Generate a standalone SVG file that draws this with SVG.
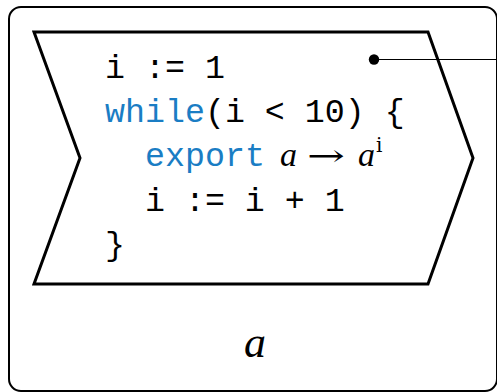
<svg xmlns="http://www.w3.org/2000/svg" width="497" height="392" viewBox="0 0 497 392">
  <style>
    .code { font-family: "Liberation Mono", "DejaVu Sans Mono", monospace; font-size: 33.3px; fill: #000; white-space: pre; }
    .kw { fill: #1a7dc4; }
    .math { font-family: "Liberation Serif", "DejaVu Serif", serif; font-style: italic; fill: #000; }
    .sym { font-family: "DejaVu Serif", "Liberation Serif", serif; fill: #000; }
  </style>
  <rect width="497" height="392" fill="#fff"/>
  <g id="outer">
    <rect x="9" y="7" width="488" height="384" rx="12" ry="12" fill="none" stroke="#000" stroke-width="2"/>
    <text class="math" x="255" y="357" font-size="44" text-anchor="middle">a</text>
  </g>
  <g id="block">
    <polygon points="34,32 428,32 473,158 428,284 34,284 80,158" fill="none" stroke="#000" stroke-width="3" stroke-linejoin="miter"/>
    <text class="code" x="105" y="78" xml:space="preserve">i := 1</text>
    <text class="code" x="105" y="122" xml:space="preserve"><tspan class="kw">while</tspan>(i &lt; 10) {</text>
    <text class="code kw" x="145" y="166">export</text>
    <text class="math" x="280" y="166" font-size="34">a</text>
    <text class="sym" x="307" y="166" font-size="30" textLength="38" lengthAdjust="spacingAndGlyphs">→</text>
    <text class="math" x="358" y="166" font-size="34">a</text>
    <text class="sym" x="376" y="152" font-size="20">i</text>
    <text class="code" x="105" y="211" xml:space="preserve">  i := i + 1</text>
    <text class="code" x="105" y="255">}</text>
  </g>
  <g id="connectors">
    <line x1="374" y1="59.5" x2="497" y2="59.5" stroke="#000" stroke-width="1"/>
    <circle cx="374" cy="59.5" r="5.2" fill="#000"/>
  </g>
</svg>
